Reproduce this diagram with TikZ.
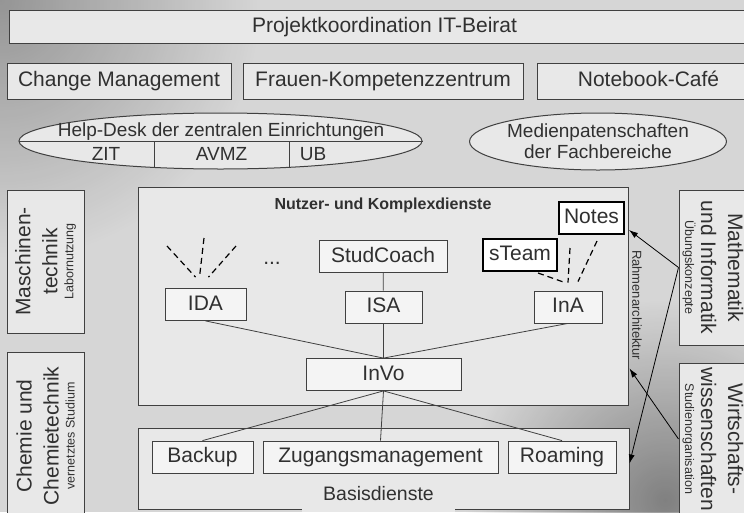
\documentclass[tikz,border=0pt]{standalone}
\usepackage{fontspec}
\setmainfont{Liberation Sans}
\usetikzlibrary{positioning, arrows.meta, shapes.geometric, calc, fadings}

\definecolor{boxfill}{HTML}{E8E8E8}
\definecolor{innerfill}{HTML}{F4F4F4}
\definecolor{edge}{HTML}{404040}
\definecolor{ink}{HTML}{303030}

\tikzfading[name=glow, inner color=transparent!0, outer color=transparent!100]

\newcommand{\subtxt}[1]{{\fontsize{12.5}{14}\selectfont #1}}

\begin{document}
\begin{tikzpicture}[x=1pt, y=-1pt,
    every node/.style={text=ink, inner sep=0pt, font=\fontsize{21}{23}\selectfont},
    box/.style={draw=edge, fill=boxfill, line width=1pt},
    oneline/.style={text height=15pt, text depth=4pt},
    inbox/.style={oneline, draw=edge, fill=innerfill, line width=0.8pt, minimum height=32},
    boldbox/.style={oneline, draw=black, fill=white, line width=2pt, minimum height=32},
    oval/.style={ellipse, draw=edge, fill=boxfill, line width=1pt, font=\fontsize{19}{21}\selectfont},
    ovaltext/.style={font=\fontsize{19}{21}\selectfont, anchor=base},
    sidebox/.style={box, align=center, font=\fontsize{21}{24}\selectfont},
    link/.style={draw=edge, line width=0.8pt},
    hint/.style={draw=black, line width=1.2pt, dash pattern=on 6pt off 4pt},
    pointer/.style={-{Latex[length=9pt,width=6pt]}, draw=black, line width=0.8pt}]
    \useasboundingbox (0,0) rectangle (744,512);
    \clip (0,0) rectangle (744,512);
    \fill[black!16] (0,0) rectangle (744,512);
    \fill[black, fill opacity=0.3, path fading=glow] (0,0) circle (260);
    \fill[black, fill opacity=0.4, path fading=glow] (665,500) circle (200);

    \node[box, oneline, minimum width=751, minimum height=33] (proj) at (384.5,26.5) {Projektkoordination IT-Beirat};
    \node[box, oneline, minimum width=224, minimum height=36] (change) at (119,81) {Change Management};
    \node[box, oneline, minimum width=280, minimum height=36] (frauen) at (383,81) {Frauen-Kompetenzzentrum};
    \node[box, oneline, minimum width=223, minimum height=36] (cafe) at (648.5,81) {Notebook-Café};

    \node[oval, minimum width=403, minimum height=56] (help) at (220.5,141) {};
    \draw[link] (help.west) -- (help.east);
    \draw[link] ($(help.center)+(-66.5,0)$) -- ++(0,26.4);
    \draw[link] ($(help.center)+(68.5,0)$) -- ++(0,26.3);
    \node[ovaltext] (helpT) at (221,136.5) {Help-Desk der zentralen Einrichtungen};
    \node[ovaltext] (zit) at (106,160) {ZIT};
    \node[ovaltext] (avmz) at (221.5,160) {AVMZ};
    \node[ovaltext] (ub) at (313,160) {UB};
    \node[oval, minimum width=230, minimum height=57, align=center] (medien) at (598,141.5) {Medienpatenschaften\\der Fachbereiche};

    \node[sidebox, rotate=90, minimum width=143, minimum height=77] (masch) at (45.5,261.5) {Maschinen-\\[3pt]technik\\[-8pt]\subtxt{Labornutzung}};
    \node[sidebox, rotate=90, minimum width=168, minimum height=77] (chemie) at (45.5,436) {Chemie und\\[3pt]Chemietechnik\\[-8pt]\subtxt{vernetztes Studium}};
    \node[sidebox, rotate=-90, minimum width=155, minimum height=68] (mathe) at (713,267.5) {Mathematik\\[3pt]und Informatik\\[-8pt]\subtxt{Übungskonzepte}};
    \node[sidebox, rotate=-90, minimum width=152, minimum height=68] (wiwi) at (713,439) {Wirtschafts-\\[3pt]wissenschaften\\[-8pt]\subtxt{Studienorganisation}};

    \node[box, minimum width=490, minimum height=218] (nkd) at (383,296) {};
    \node[font=\bfseries\fontsize{16}{18}\selectfont, anchor=base] (nkdT) at (383,209.3) {Nutzer- und Komplexdienste};
    \node[box, minimum width=491, minimum height=81] (bd) at (383.5,468.5) {};
    \node[fill=boxfill, minimum width=153, minimum height=36, font=\fontsize{19.5}{21}\selectfont] (bdT) at (378.5,494) {Basisdienste};

    \node[inbox, minimum width=81] (ida) at (205.5,304.5) {IDA};
    \node[anchor=base] (dots) at (272,264) {...};
    \node[inbox, minimum width=128] (coach) at (383,256.5) {StudCoach};
    \node[inbox, minimum width=77] (isa) at (383.5,307) {ISA};
    \node[inbox, minimum width=68] (ina) at (568,307) {InA};
    \node[boldbox, minimum width=74] (steam) at (520,255) {sTeam};
    \node[boldbox, minimum width=65] (notes) at (591.5,218) {Notes};
    \node[inbox, minimum width=155] (invo) at (383.5,374.5) {InVo};
    \node[inbox, minimum width=101] (backup) at (202.5,457) {Backup};
    \node[inbox, minimum width=235] (zugang) at (380.5,457) {Zugangsmanagement};
    \node[inbox, minimum width=108] (roaming) at (562,457) {Roaming};
    \node[rotate=-90, font=\fontsize{13}{15}\selectfont] (rahmen) at (637,305) {Rahmenarchitektur};

    \draw[link] (coach) -- (isa);
    \draw[link] (ida.south) -- (invo.north);
    \draw[link] (isa.south) -- (invo.north);
    \draw[link] (ina.south) -- (invo.north);
    \draw[link] (invo.south) -- (backup.north);
    \draw[link] (invo.south) -- (zugang.north);
    \draw[link] (invo.south) -- (roaming.north);

    \coordinate (idaL) at (167,246);
    \coordinate (idaM) at (204,238);
    \coordinate (idaR) at (236,246);
    \draw[hint] (idaL) -- ($(ida.north)+(-10,-11)$);
    \draw[hint] (idaM) -- ($(ida.north)+(-6,-11)$);
    \draw[hint] (idaR) -- ($(ida.north)+(3,-11)$);
    \coordinate (inaM) at (570,248);
    \draw[hint] ($(steam.south)+(18,1)$) -- ($(ina.north)+(-3,-8)$);
    \draw[hint] (inaM) -- ($(ina.north)+(0,-8)$);
    \draw[hint] ($(notes.south)+(5.5,6)$) -- ($(ina.north)+(10,-9)$);

    \coordinate (tipNotes) at ($(notes.south east)+(4,-5)$);
    \coordinate (tipBd) at ($(bd.east)+(0,-5)$);
    \coordinate (tipNkd) at ($(nkd.south east)+(1,-37)$);
    \draw[pointer] (mathe.south) -- (tipNotes);
    \draw[pointer] (mathe.south) -- (tipBd);
    \draw[pointer] (wiwi.south) -- (tipNkd);
\end{tikzpicture}
\end{document}
